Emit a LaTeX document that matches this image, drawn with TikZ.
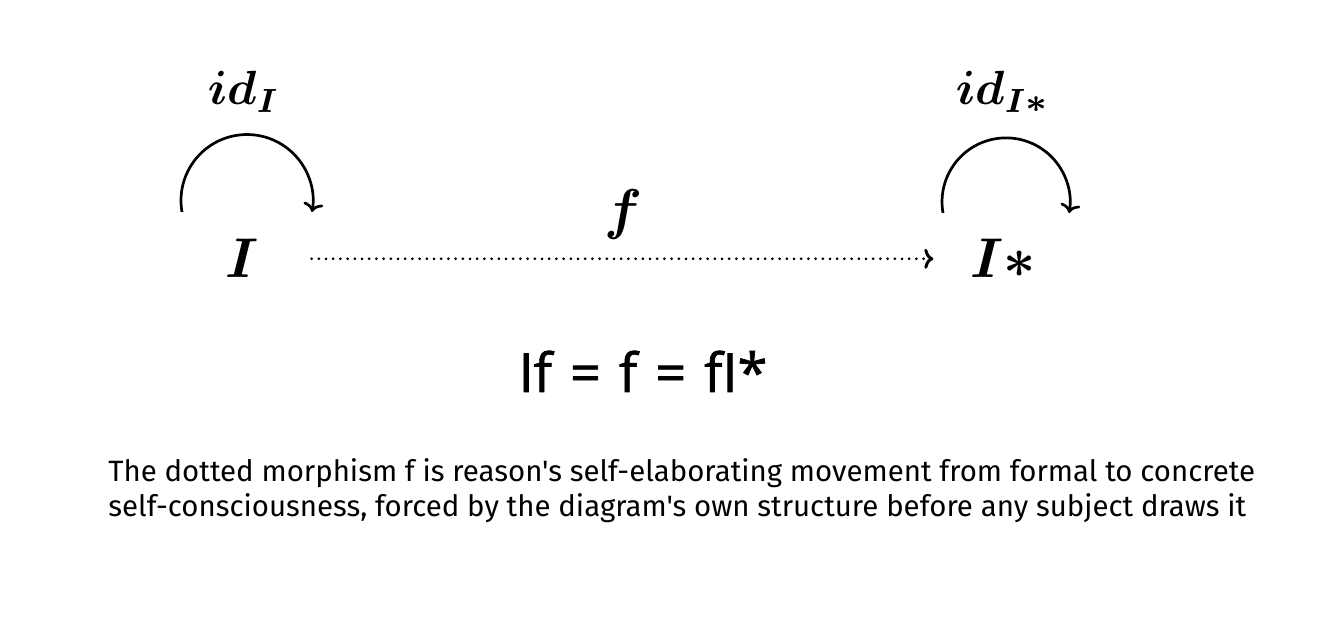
\documentclass[tikz,border=0pt]{standalone}
\usepackage{fontspec}
\newfontfamily\capfont{Fira Sans}
\newfontfamily\eqfont[FakeBold=1.2]{Open Sans}
\usetikzlibrary{arrows.meta}
\tikzset{
  obj/.style={inner sep=0pt, scale=2.8, font=\boldmath},
  lbl/.style={inner sep=0pt, scale=2.4, font=\boldmath},
  loopline/.style={line width=1.35pt, -{To[length=4.5pt,width=10pt]}},
  dotline/.style={line width=1.5pt, line cap=round, dash pattern=on 0pt off 3.6pt, shorten <=26pt, shorten >=18pt, -{To[length=4.5pt,width=10pt]}},
  eqtext/.style={inner sep=0pt, font=\eqfont\fontsize{27}{30}\selectfont},
  captext/.style={inner sep=0pt, align=left, font=\capfont\fontsize{14.7}{17.8}\selectfont}
}
\begin{document}
\begin{tikzpicture}[x=0.5pt,y=0.5pt]
\useasboundingbox[fill=white] (0,0) rectangle (1332,624);
\node[obj, anchor=base] (I) at (242,346) {$I$};
\node[obj, anchor=base] (Is) at (1003,346) {$I{*}$};
\node[lbl, anchor=base] (idI) at (244,519) {$id_I$};
\node[lbl, anchor=base] (idIs) at (1003,519) {$id_{I*}$};
\node[obj] (f) at (623,409) {$f$};
\draw[dotline] (I) -- (Is);
\draw[loopline] (182,412) arc[start angle=190, end angle=-10, radius=66];
\draw[loopline] (943,411) arc[start angle=190, end angle=-10, radius=64];
\node[eqtext, anchor=base] (eq) at (643,232) {If\hspace{2pt} =\hspace{2pt} f\hspace{2pt} =\hspace{2pt} fI*};
\node[captext, anchor=north west] (cap) at (108,166) {The dotted morphism f is reason's self-elaborating movement from formal to concrete\\self-consciousness, forced by the diagram's own structure before any subject draws it};
\end{tikzpicture}
\end{document}
